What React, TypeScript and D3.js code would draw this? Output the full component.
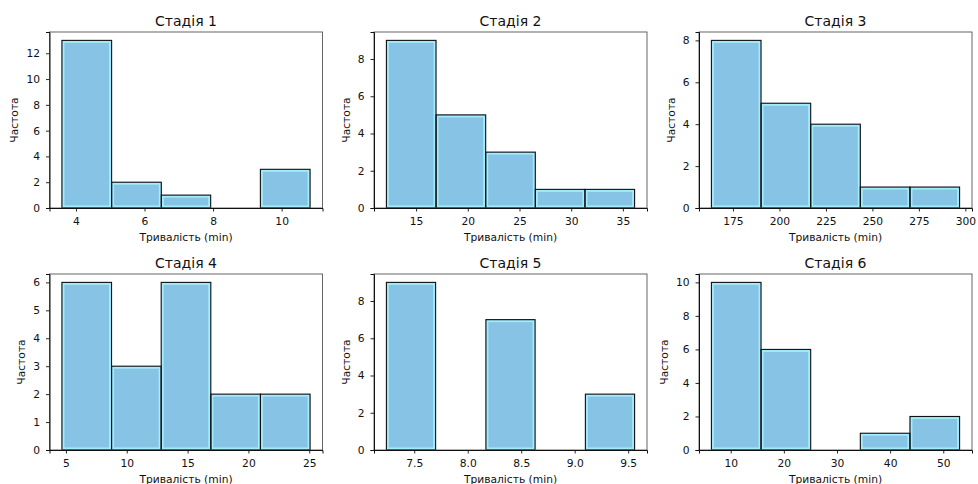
import React, { useRef, useEffect } from 'react';
import * as d3 from 'd3';

// Figure size (px)
const WIDTH = 978;
const HEIGHT = 484;

const stageTitles = ['Стадія 1', 'Стадія 2', 'Стадія 3', 'Стадія 4', 'Стадія 5', 'Стадія 6'];
const xLabel = 'Тривалість (min)';
const yLabel = 'Частота';

// Bin edges and counts
const stage1Edges = [3.59, 5.04, 6.49, 7.93, 9.38, 10.83];
const stage1Counts = [13, 2, 1, 0, 3];
const stage1Ticks = [4, 6, 8, 10];

const stage2Edges = [12.13, 16.93, 21.73, 26.53, 31.33, 36.13];
const stage2Counts = [9, 5, 3, 1, 1];
const stage2Ticks = [15, 20, 25, 30, 35];

const stage3Edges = [163.4, 190.1, 216.8, 243.5, 270.2, 296.9];
const stage3Counts = [8, 5, 4, 1, 1];
const stage3Ticks = [175, 200, 225, 250, 275, 300];

const stage4Edges = [4.67, 8.75, 12.83, 16.91, 20.99, 25.07];
const stage4Counts = [6, 3, 6, 2, 2];
const stage4Ticks = [5, 10, 15, 20, 25];

const stage5Edges = [7.24, 7.7, 8.17, 8.63, 9.1, 9.56];
const stage5Counts = [9, 0, 7, 0, 3];
const stage5Ticks = [7.5, 8.0, 8.5, 9.0, 9.5];

const stage6Edges = [6.37, 15.71, 25.05, 34.39, 43.73, 53.07];
const stage6Counts = [10, 6, 0, 1, 2];
const stage6Ticks = [10, 20, 30, 40, 50];

const panels = [
  { edges: stage1Edges, counts: stage1Counts, ticks: stage1Ticks, fmt: d3.format('d') },
  { edges: stage2Edges, counts: stage2Counts, ticks: stage2Ticks, fmt: d3.format('d') },
  { edges: stage3Edges, counts: stage3Counts, ticks: stage3Ticks, fmt: d3.format('d') },
  { edges: stage4Edges, counts: stage4Counts, ticks: stage4Ticks, fmt: d3.format('d') },
  { edges: stage5Edges, counts: stage5Counts, ticks: stage5Ticks, fmt: d3.format('.1f') },
  { edges: stage6Edges, counts: stage6Counts, ticks: stage6Ticks, fmt: d3.format('d') },
];

// axes layout
const colLefts = [49.5, 374, 699];
const rowTops = [32, 274];
const AX_W = 273;
const AX_H = 176;

const FONT = '"DejaVu Sans", sans-serif';
const BAR_FILL = '#87c3e5';
const BAR_GLOW = '#a2ecfb';

const App = () => {
  const svgRef = useRef<SVGSVGElement | null>(null);

  useEffect(() => {
    if (!svgRef.current) return;
    const svg = d3.select(svgRef.current);
    svg.selectAll('*').remove();

    svg.append('rect').attr('width', WIDTH).attr('height', HEIGHT).attr('fill', '#fff');

    panels.forEach((p, i) => {
      const left = colLefts[i % 3];
      const top = rowTops[Math.floor(i / 3)];
      const g = svg.append('g').attr('transform', `translate(${left},${top})`);

      const lo = p.edges[0];
      const hi = p.edges[p.edges.length - 1];
      const m = (hi - lo) * 0.05;
      const x = d3.scaleLinear().domain([lo - m, hi + m]).range([0, AX_W]);
      const y = d3.scaleLinear().domain([0, (d3.max(p.counts) as number) * 1.05]).range([AX_H, 0]);

      const bins = p.counts
        .map((c, k) => ({ c, x0: p.edges[k], x1: p.edges[k + 1] }))
        .filter((d) => d.c > 0);

      // bar body
      g.selectAll('.bar')
        .data(bins)
        .enter()
        .append('rect')
        .attr('x', (d) => x(d.x0))
        .attr('y', (d) => y(d.c))
        .attr('width', (d) => x(d.x1) - x(d.x0))
        .attr('height', (d) => AX_H - y(d.c))
        .attr('fill', BAR_FILL);

      // light inner rim
      g.selectAll('.glow')
        .data(bins)
        .enter()
        .append('rect')
        .attr('x', (d) => x(d.x0) + 1.6)
        .attr('y', (d) => y(d.c) + 1.6)
        .attr('width', (d) => x(d.x1) - x(d.x0) - 3.2)
        .attr('height', (d) => AX_H - y(d.c) - 3.2)
        .attr('fill', 'none')
        .attr('stroke', BAR_GLOW)
        .attr('stroke-width', 1.8);

      // black edge
      g.selectAll('.edge')
        .data(bins)
        .enter()
        .append('rect')
        .attr('x', (d) => x(d.x0))
        .attr('y', (d) => y(d.c))
        .attr('width', (d) => x(d.x1) - x(d.x0))
        .attr('height', (d) => AX_H - y(d.c))
        .attr('fill', 'none')
        .attr('stroke', '#111')
        .attr('stroke-width', 1.1);

      // frame
      g.append('rect')
        .attr('width', AX_W)
        .attr('height', AX_H)
        .attr('fill', 'none')
        .attr('stroke', '#555')
        .attr('stroke-width', 0.9);

      const xAxisG = g
        .append('g')
        .attr('transform', `translate(0,${AX_H})`)
        .call(
          d3.axisBottom(x).tickValues(p.ticks).tickFormat((v) => p.fmt(v as number)).tickSize(3.5).tickPadding(5.5)
        );
      const yAxisG = g.append('g').call(d3.axisLeft(y).ticks(5).tickSize(3.5).tickPadding(6));

      [xAxisG, yAxisG].forEach((ax) => {
        ax.select('.domain').attr('stroke', '#111').attr('stroke-width', 1);
        ax.selectAll('.tick line').attr('stroke', '#111').attr('stroke-width', 0.9);
        ax.selectAll('text')
          .attr('fill', '#111')
          .style('font-family', FONT)
          .style('font-size', '10.7px');
      });

      // title
      g.append('text')
        .attr('x', AX_W / 2)
        .attr('y', -6)
        .attr('text-anchor', 'middle')
        .attr('fill', '#111')
        .style('font-family', FONT)
        .style('font-size', '14px')
        .text(stageTitles[i]);

      // x label
      g.append('text')
        .attr('x', AX_W / 2)
        .attr('y', AX_H + 33)
        .attr('text-anchor', 'middle')
        .attr('fill', '#111')
        .style('font-family', FONT)
        .style('font-size', '10.7px')
        .text(xLabel);

      // y label, placed just left of the tick labels
      const yb = (yAxisG.node() as SVGGElement).getBBox();
      g.append('text')
        .attr('transform', `translate(${yb.x - 8},${AX_H / 2}) rotate(-90)`)
        .attr('text-anchor', 'middle')
        .attr('fill', '#111')
        .style('font-family', FONT)
        .style('font-size', '10.7px')
        .text(yLabel);
    });

    return () => {
      svg.selectAll('*').remove();
    };
  }, []);

  return (
    <svg
      ref={svgRef}
      width={WIDTH}
      height={HEIGHT}
      viewBox={`0 0 ${WIDTH} ${HEIGHT}`}
      style={{ position: 'absolute', left: 0, top: 0, display: 'block' }}
    />
  );
};

export default App;
